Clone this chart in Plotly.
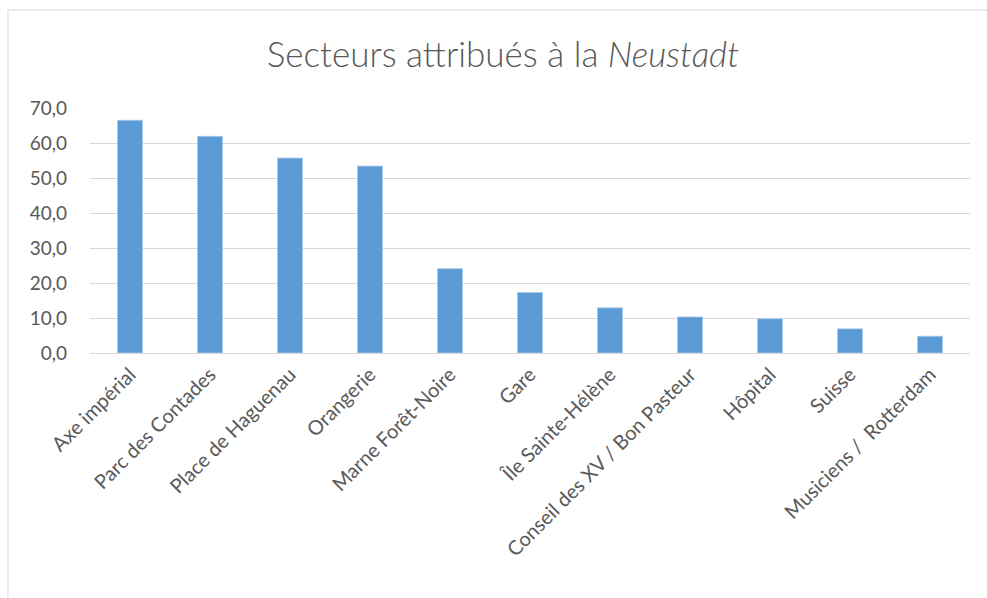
import plotly.graph_objects as go

categories = ["Axe impérial", "Parc des Contades", "Place de Haguenau", "Orangerie",
              "Marne Forêt-Noire", "Gare", "Île Sainte-Hélène",
              "Conseil des XV / Bon Pasteur", "Hôpital", "Suisse", "Musiciens /  Rotterdam"]
values = [66.5, 61.9, 55.7, 53.4, 24.1, 17.3, 12.9, 10.3, 9.8, 6.9, 4.8]
y_ticks = [0, 10, 20, 30, 40, 50, 60, 70]

font_family = "Lato"
grey = "#595959"

fig = go.Figure(go.Bar(
    x=categories, y=values,
    marker=dict(color="#5b9bd5", line=dict(color="#a9c9ea", width=0.8)),
    width=0.3125,
))

fig.update_layout(
    width=987, height=598,
    margin=dict(l=90, r=17, t=108, b=245),
    paper_bgcolor="white", plot_bgcolor="white",
    separators=", ",
    title=dict(text="Secteurs attribués à la <i>Neustadt</i>",
               x=0.5096, xanchor="center", y=0.908, yanchor="middle",
               font=dict(family=font_family, size=35, color=grey, weight=300)),
    showlegend=False,
    xaxis=dict(tickangle=-45, tickfont=dict(family=font_family, size=20, color=grey),
               showgrid=False, showline=False, ticks="", zeroline=False,
               ticklabelstandoff=5),
    yaxis=dict(range=[0, 70], tickvals=y_ticks, tickformat=".1f",
               tickfont=dict(family=font_family, size=19, color=grey),
               showgrid=True, gridcolor="#d9d9d9", gridwidth=1,
               zeroline=True, zerolinecolor="#d9d9d9", zerolinewidth=1,
               showline=False, ticks="", ticklabelstandoff=22),
    shapes=[
        dict(type="line", xref="paper", yref="paper", x0=-0.0932, x1=1.1, y0=1.4, y1=1.4,
             line=dict(color="#d9d9d9", width=1)),
        dict(type="line", xref="paper", yref="paper", x0=-0.0932, x1=-0.0932, y0=-1.1, y1=1.4,
             line=dict(color="#d9d9d9", width=1)),
    ],
)

fig.write_html("out.html", config={"displayModeBar": False},
               post_script="document.body.style.margin='0';")
